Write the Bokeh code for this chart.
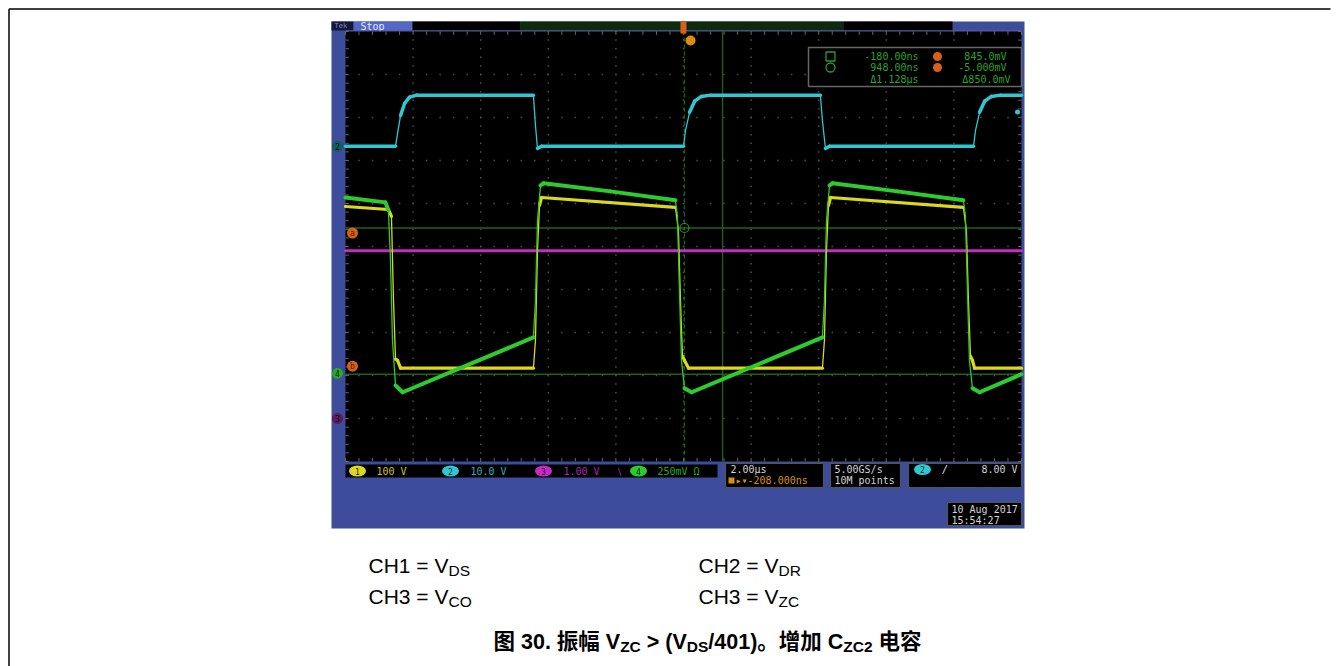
import numpy as np
from bokeh.plotting import figure
from bokeh.models import Range1d
from bokeh.core.properties import value
from bokeh.embed import file_html
from bokeh.resources import INLINE

# ---------------- values ----------------
# time in microseconds, relative to the centre of the screen (2 us/div, 10 div)
CH1_T = [-10.00, -8.73, -8.64, -8.58, -8.52, -8.46, -8.37, -4.44, -4.38, -4.32, -4.26, -4.20,
         -0.24, -0.15, -0.09, -0.03, 0.03, 0.15, 4.11, 4.17, 4.23, 4.29, 4.35,
         8.28, 8.37, 8.43, 8.49, 8.55, 8.61, 10.00]
CH1_V = [381, 374, 358, 163, 26, 23, 5, 5, 70, 279, 384, 402,
         379, 326, 163, 33, 23, 5, 5, 70, 279, 384, 402,
         379, 326, 163, 33, 23, 5, 5]                      # V_DS, volts

CH2_T = [-10.00, -8.52, -8.46, -8.37, -8.25, -8.11, -7.90, -4.44, -4.38, -4.32, -4.20,
         0.00, 0.06, 0.18, 0.33, 0.53, 0.80, 4.05, 4.11, 4.20, 4.32,
         8.58, 8.64, 8.76, 8.91, 9.11, 9.38, 10.00]
CH2_V = [0.0, 0.0, 3.0, 7.2, 10.0, 11.4, 11.9, 11.9, 4.9, -0.5, 0.0,
         0.0, 3.7, 7.9, 10.5, 11.6, 11.9, 11.9, 6.0, -0.5, 0.0,
         0.0, 3.7, 7.9, 10.5, 11.6, 11.9, 11.9]              # V_DR, volts

CH3_T = [-10.00, 10.00]
CH3_V = [3.9, 3.9]                                        # V_CO, volts

CH4_T = [-10.00, -8.82, -8.73, -8.67, -8.61, -8.52, -8.31, -4.44, -4.38, -4.32, -4.23, -4.14,
         -2.16, -0.24, -0.18, -0.12, -0.06, 0.03, 0.24, 4.11, 4.17, 4.23, 4.32, 4.41,
         6.33, 8.28, 8.34, 8.40, 8.46, 8.55, 8.76, 10.00]
CH4_MV = [1023, 994, 948, 657, 192, -70, -110, 209, 424, 890, 1093, 1105,
          1058, 1006, 919, 483, 76, -87, -110, 209, 424, 890, 1093, 1105,
          1058, 1006, 919, 483, 76, -87, -110, -5]            # V_ZC, millivolts

CH_SCALE = [100.0, 10.0, 1.0, 250.0]          # per division (V, V, V, mV)
CH_OFFSET = [-2.88, 2.33, -4.00, -2.95]       # ground position, divisions from centre
CH_SCALE_LABELS = ["100 V", "10.0 V", "1.00 V", "250mV \u03a9"]

H_DELAY_NS = -208.0
CURSOR_T_NS = [-180.0, 948.0]
CURSOR_V_MV = [845.0, -5.0]
READOUT_T = ["-180.00ns", "948.00ns", "\u03941.128\u00b5s"]
READOUT_V = ["845.0mV", "-5.000mV", "\u0394850.0mV"]
TIMEBASE = "2.00\u00b5s"
DELAY_LABEL = "-208.000ns"
SAMPLE_RATE = "5.00GS/s"
RECORD_LEN = "10M points"
TRIG_LEVEL_V = 8.00
TRIG_LABEL = "8.00 V"
DATE_LINES = ["10 Aug 2017", "15:54:27"]
ACQ_STATE = "Stop"

CAPTION_ROWS = [[("CH1 = V", "DS"), ("CH2 = V", "DR")],
                [("CH3 = V", "CO"), ("CH3 = V", "ZC")]]
TITLE_PIECES = [("\u56fe 30. \u632f\u5e45 V", False), ("ZC", True), (" > (V", False), ("DS", True),
                ("/401)\u3002\u589e\u52a0 C", False), ("ZC2", True), (" \u7535\u5bb9", False)]

# ---------------- colours ----------------
YEL, CYN, MAG, GRN = "#dcd81e", "#2ec8d2", "#c42cc4", "#2ccc2c"
CUR, ORG, FRAME = "#1f601f", "#d8601a", "#3e4c9c"

# ---------------- page geometry (screen centre at page x=683, y=246) ----------------
W, H = 1338, 666
CX, CY = 683.0, 246.0
PX_US, PX_DIV = 33.8, 43.0


def X(px):
    return (px - CX) / PX_US


def Y(py):
    return (CY - py) / PX_DIV


p = figure(width=W, height=H, x_range=Range1d(X(0), X(W)), y_range=Range1d(Y(H), Y(0)),
           output_backend="svg", toolbar_location=None, min_border=0)
p.axis.visible = False
p.grid.visible = False
p.outline_line_color = None
p.background_fill_color = "white"
p.border_fill_color = "white"

MONO = "DejaVu Sans Mono"
SANS = "Liberation Sans, Noto Sans CJK SC"


def quad(x0, y0, x1, y1, fill, line=None, lw=1.0):
    p.quad(left=[X(x0)], right=[X(x1)], top=[Y(y0)], bottom=[Y(y1)],
           fill_color=fill, line_color=line, line_width=lw)


def txt(px, py, s, color, size=10, font=MONO, align="left", baseline="middle", style="normal"):
    p.text(x=[X(px)], y=[Y(py)], text=[s], text_color=color, text_font=value(font),
           text_font_size=f"{size}px", text_align=align, text_baseline=baseline,
           text_font_style=style)


# page border (left and top)
p.line([X(8.5), X(1330)], [Y(8.5), Y(8.5)], line_color="black", line_width=1.5)
p.line([X(8.5), X(8.5)], [Y(8.5), Y(H)], line_color="black", line_width=1.5)

# scope screenshot frame
quad(331, 21, 1024, 528, FRAME)
quad(331, 21, 353, 30, "#15183a")
txt(334, 25.5, "Tek", "#7c86c0", 7)
quad(353, 21, 412, 30, "#5566c4")
txt(360, 25.5, ACQ_STATE, "#e4e8ff", 10)
quad(412, 21, 520, 30, "black")
quad(520, 21, 843, 30, "#0d2a0d")
quad(843, 21, 952, 30, "black")
quad(345, 30, 1021, 31, "#5a6aa8")

# graticule
quad(345, 31, 1021, 461, "black")
gx, gy = [], []
for k in range(1, 10):
    ys = np.arange(-5.0, 5.0001, 0.2)
    gx += [-10.0 + 2.0 * k] * len(ys)
    gy += list(ys)
    xs = np.arange(-10.0, 10.0001, 0.4)
    gx += list(xs)
    gy += [-5.0 + k] * len(xs)
p.scatter(gx, gy, marker="square", size=1.5, fill_color="#4e4e4e", line_color=None)
tx = np.arange(-10.0, 10.0001, 0.4)
ty = np.arange(-5.0, 5.0001, 0.2)
p.segment(x0=list(tx) * 2, y0=[5.0] * len(tx) + [-5.0] * len(tx),
          x1=list(tx) * 2, y1=[4.92] * len(tx) + [-4.92] * len(tx), line_color="#666666", line_width=1)
p.segment(x0=[-10.0] * len(ty) + [10.0] * len(ty), y0=list(ty) * 2,
          x1=[-9.9] * len(ty) + [9.9] * len(ty), y1=list(ty) * 2, line_color="#666666", line_width=1)

# cursors
cur_x = [t / 1000.0 - H_DELAY_NS / 1000.0 for t in CURSOR_T_NS]
cur_y = [CH_OFFSET[3] + v / CH_SCALE[3] for v in CURSOR_V_MV]
p.line([cur_x[0], cur_x[0]], [-5, 5], line_color=CUR, line_width=1.4, line_dash="4 3")
p.line([cur_x[1], cur_x[1]], [-5, 5], line_color=CUR, line_width=1.4)
for yv in cur_y:
    p.line([-10, 10], [yv, yv], line_color=CUR, line_width=1.4)
p.scatter([cur_x[0]], [cur_y[0]], marker="circle", size=9, fill_color=None, line_color="#2f8a2f", line_width=1.2)


# traces
def trace(t, v, ch, color, lw):
    x = np.asarray(t, float)
    y = CH_OFFSET[ch] + np.asarray(v, float) / CH_SCALE[ch]
    p.line(x, y, line_color=color, line_width=1.3)
    dxp = np.abs(np.diff(x)) * PX_US
    dyp = np.abs(np.diff(y)) * PX_DIV
    flat = dyp <= 2.5 * dxp + 4
    p.segment(x0=x[:-1][flat], y0=y[:-1][flat], x1=x[1:][flat], y1=y[1:][flat],
              line_color=color, line_width=lw, line_cap="round")


trace(CH3_T, CH3_V, 2, MAG, 3.0)
trace(CH2_T, CH2_V, 1, CYN, 3.5)
trace(CH1_T, CH1_V, 0, YEL, 3.2)
trace(CH4_T, CH4_MV, 3, GRN, 4.0)

# trigger markers
quad(680, 21, 686, 33, ORG)
p.scatter([-H_DELAY_NS / 1000.0], [Y(40)], marker="circle", size=10, fill_color="#e08a10", line_color=None)
p.scatter([X(1017)], [CH_OFFSET[1] + TRIG_LEVEL_V / CH_SCALE[1]], marker="circle", size=5,
          fill_color=CYN, line_color=None)

# channel ground markers on the left strip
for ch, fill, tc, lab in [(1, "#17595e", "#041a1c", "2"), (3, "#2aa82a", "#062806", "4"),
                          (2, "#5c1c5c", "#1a051a", "3")]:
    p.scatter([X(337)], [CH_OFFSET[ch]], marker="circle", size=11, fill_color=fill, line_color=None)
    p.text(x=[X(337)], y=[CH_OFFSET[ch]], text=[lab], text_color=tc, text_font=value(MONO),
           text_font_size="8px", text_align="center", text_baseline="middle")

# orange cursor markers
for yv, dy, lab in [(cur_y[0], -5 / PX_DIV, "a"), (cur_y[1], 8 / PX_DIV, "b")]:
    p.scatter([X(352)], [yv + dy], marker="circle", size=11, fill_color=ORG, line_color=None)
    p.text(x=[X(352)], y=[yv + dy], text=[lab], text_color="#4a1a00", text_font=value(MONO),
           text_font_size="8px", text_align="center", text_baseline="middle")

# cursor readout box
quad(808, 47, 1021, 86, "black", "#666666", 1.5)
p.scatter([X(830)], [Y(56)], marker="square", size=9, fill_color=None, line_color="#2a9a2a", line_width=1.3)
p.scatter([X(830)], [Y(67)], marker="circle", size=9, fill_color=None, line_color="#2a9a2a", line_width=1.3)
for s, py in zip(READOUT_T, [56, 67, 79]):
    txt(918, py, s, "#2aa42a", 10, align="right")
for s, py, ex in zip(READOUT_V, [56, 67, 79], [1006, 1006, 1010]):
    txt(ex, py, s, "#2aa42a", 10, align="right")
p.scatter([X(937), X(937)], [Y(56), Y(67)], marker="circle", size=9, fill_color=ORG, line_color=None)

# bottom status bar
quad(345, 464, 717, 477, "black")
pill_w, pill_h = 17 / PX_US, 11 / PX_DIV
for cx_, lx, fill, tcol, num, lab in [(357, 376, YEL, "#c8c41c", "1", CH_SCALE_LABELS[0]),
                                       (450, 470, CYN, "#22b0b8", "2", CH_SCALE_LABELS[1]),
                                       (543, 563, MAG, "#b024b0", "3", CH_SCALE_LABELS[2]),
                                       (638, 657, GRN, "#22a822", "4", CH_SCALE_LABELS[3])]:
    p.ellipse(x=[X(cx_)], y=[Y(470.5)], width=pill_w, height=pill_h, fill_color=fill, line_color=None)
    txt(cx_, 470.5, num, "#202020", 8, align="center")
    txt(lx, 470.5, lab, tcol, 10)
txt(615, 470.5, "\u2216", "#b024b0", 10)

quad(725, 463, 823, 487, "black", "#555555", 1.2)
txt(730, 469, TIMEBASE, "#d4d4d4", 10)
quad(728, 477, 734, 483, "#d89010")
txt(735, 480, "\u25b8\u25be" + DELAY_LABEL, "#d89010", 10)

quad(830, 463, 900, 487, "black", "#555555", 1.2)
txt(834, 469, SAMPLE_RATE, "#d4d4d4", 10)
txt(834, 480, RECORD_LEN, "#d4d4d4", 10)

quad(908, 463, 1021, 487, "black", "#555555", 1.2)
p.ellipse(x=[X(922)], y=[Y(469)], width=pill_w, height=pill_h, fill_color=CYN, line_color=None)
txt(922, 469, "2", "#202020", 8, align="center")
txt(941, 469, "/", "#d4d4d4", 11)
txt(1017, 469, TRIG_LABEL, "#d4d4d4", 10, align="right")

quad(947, 502, 1021, 525, "black", "#555555", 1.2)
txt(951, 508.5, DATE_LINES[0], "#d4d4d4", 10)
txt(951, 519.5, DATE_LINES[1], "#d4d4d4", 10)

# ---------------- captions ----------------
AW = {' ': .278, '(': .333, ')': .333, '.': .278, '/': .278, '=': .584, '>': .584,
      'C': .722, 'D': .722, 'H': .722, 'O': .778, 'R': .722, 'S': .667, 'V': .667, 'Z': .611}


def tw(s, size):
    return sum((1.0 if ord(c) > 0x2E7F else AW.get(c, 0.556)) for c in s) * size


def rich(x0, base, pieces, size, sub_size, style):
    x = x0
    for s, sub in pieces:
        fs = sub_size if sub else size
        lead = len(s) - len(s.lstrip(" "))
        txt(x + tw(" " * lead, fs), base + (5 if sub else 0), s.strip(" "), "black", fs, SANS,
            "left", "alphabetic", style)
        x += tw(s, fs)


for row, base in zip(CAPTION_ROWS, [565, 596]):
    for (main, sub), x0 in zip(row, [368, 698]):
        rich(x0, base, [(main, False), (sub, True)], 21, 15.5, "normal")

rich(493, 641, TITLE_PIECES, 21.5, 15.5, "bold")

with open("out.html", "w", encoding="utf-8") as f:
    f.write(file_html(p, INLINE, title="VZC waveform"))
